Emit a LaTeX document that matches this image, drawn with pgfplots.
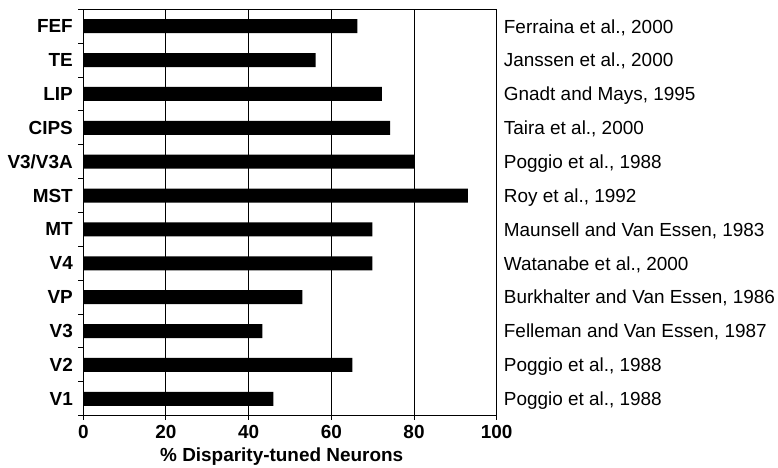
\documentclass[border=0pt]{standalone}
\usepackage{fontspec}
\setmainfont{Liberation Sans}
\usepackage{pgfplots}
\pgfplotsset{compat=1.18}

\begin{document}
\begin{tikzpicture}
\begin{axis}[
    at={(0,0)}, anchor=south west,
    scale only axis,
    width=413.4bp, height=406.4bp,
    xmin=0, xmax=100, ymin=-0.5, ymax=11.5,
    xbar, bar width=14bp,
    xtick={0,20,...,100},
    ytick={0,...,11},
    yticklabels={V1,V2,V3,VP,V4,MT,MST,V3/V3A,CIPS,LIP,TE,FEF},
    minor ytick={-0.5,0.5,...,11.5},
    xtick pos=bottom, ytick pos=left,
    tick align=outside,
    major tick length=4bp, minor tick length=5bp,
    major y tick style={draw=none},
    tick style={black, line width=1bp},
    axis line style={black, line width=1.3bp},
    xmajorgrids,
    major x grid style={black, line width=1bp},
    /pgf/number format/assume math mode=true,
    ticklabel style={font=\bfseries\fontsize{19}{21}\selectfont},
    yticklabel style={xshift=-3bp},
    xticklabel style={anchor=base, yshift=-19.3bp},
    xlabel={\% Disparity-tuned Neurons},
    xlabel style={font=\bfseries\fontsize{19}{21}\selectfont,
        at={(axis description cs:0.5,0)}, anchor=base,
        xshift=-8.3bp, yshift=-46bp},
    clip=false,
]
\addplot[fill=black, draw=none] coordinates {
(46,0) (65.1,1) (43.3,2) (53,3) (69.9,4) (69.9,5)
(93,6) (80.1,7) (74.2,8) (72.2,9) (56.2,10) (66.3,11)
};
\begin{scope}[every node/.style={anchor=west, xshift=3.7bp,
    text height=13.6bp, text depth=0pt, inner ysep=0pt,
    font=\fontsize{19}{21}\selectfont}]
\node at (axis cs:100,11) {Ferraina et al., 2000};
\node at (axis cs:100,10) {Janssen et al., 2000};
\node at (axis cs:100,9) {Gnadt and Mays, 1995};
\node at (axis cs:100,8) {Taira et al., 2000};
\node at (axis cs:100,7) {Poggio et al., 1988};
\node at (axis cs:100,6) {Roy et al., 1992};
\node at (axis cs:100,5) {Maunsell and Van Essen, 1983};
\node at (axis cs:100,4) {Watanabe et al., 2000};
\node at (axis cs:100,3) {Burkhalter and Van Essen, 1986};
\node at (axis cs:100,2) {Felleman and Van Essen, 1987};
\node at (axis cs:100,1) {Poggio et al., 1988};
\node at (axis cs:100,0) {Poggio et al., 1988};
\end{scope}
\end{axis}
\pgfresetboundingbox
\path (-83.3bp,-52.3bp) rectangle (694.7bp,415.7bp);
\end{tikzpicture}
\end{document}
